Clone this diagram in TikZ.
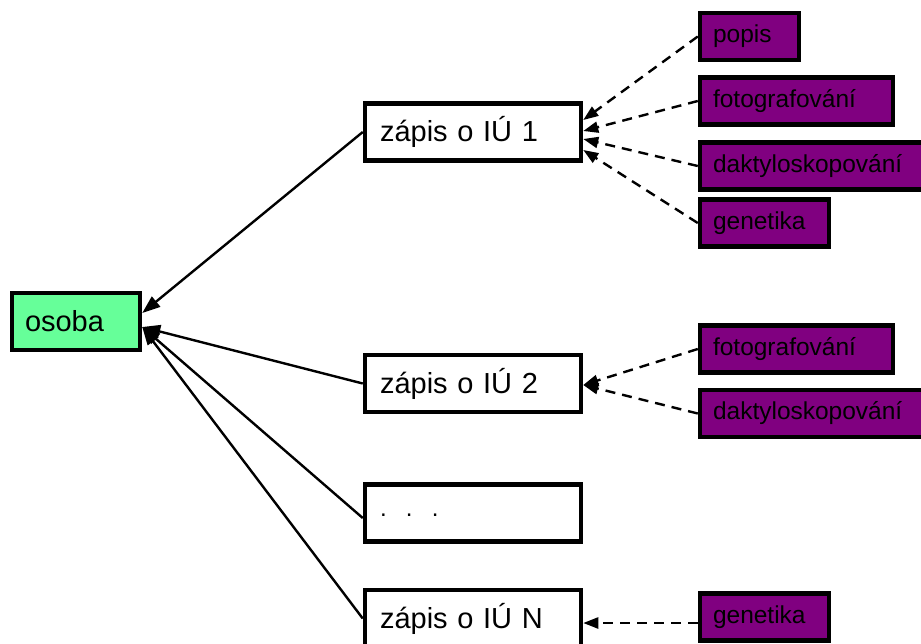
\documentclass[tikz,border=0pt]{standalone}
\usepackage{fontspec}
\setmainfont{Liberation Sans}
\usetikzlibrary{arrows.meta}
\definecolor{osobagreen}{RGB}{102,255,153}
\definecolor{methpurple}{RGB}{128,0,128}
\begin{document}
\begin{tikzpicture}[x=1pt,y=-1pt,
  basebox/.style={draw=black, line width=4.5pt, rectangle, align=left, anchor=center},
  wbox/.style={basebox, fill=white, text width=186pt, inner xsep=15pt, minimum height=57pt,
    font=\fontsize{29}{34}\selectfont},
  gbox/.style={basebox, fill=osobagreen, text width=102pt, inner xsep=13pt, minimum height=57pt,
    font=\fontsize{29}{34}\selectfont},
  pbox/.style={basebox, fill=methpurple, inner xsep=13pt, minimum height=47pt,
    font=\fontsize{24.5}{28}\selectfont},
  solidarrow/.style={line width=2.4pt, -{Triangle[length=18pt,width=13pt]}},
  dasharrow/.style={line width=2.4pt, dash pattern=on 10pt off 7pt, -{Triangle[length=15pt,width=11pt]}}
]
\useasboundingbox (0,0) rectangle (921,643);

\node[gbox] (osoba) at (76,321.5) {osoba};

\node[wbox] (z1) at (473,132) {zápis o IÚ 1};
\node[wbox] (z2) at (473,383.5) {zápis o IÚ 2};
\node[wbox] (zd) at (473,513) {\raisebox{-6pt}{\fontsize{24}{28}\selectfont .\ \ .\ \ .}};
\node[wbox] (zn) at (473,618.5) {zápis o IÚ N};

\node[pbox, text width=73pt] (p1) at (749.5,36.5) {popis};
\node[pbox, text width=167pt] (f1) at (796.5,101) {fotografování};
\node[pbox, text width=202pt] (d1) at (814,166) {daktyloskopování};
\node[pbox, text width=103pt] (g1) at (764.5,223) {genetika};

\node[pbox, text width=167pt] (f2) at (796.5,349) {fotografování};
\node[pbox, text width=202pt] (d2) at (814,413.5) {daktyloskopování};

\node[pbox, text width=103pt] (gn) at (764.5,617) {genetika};

% solid connectors to osoba
\draw[solidarrow] (z1.west) -- ([yshift=8.5pt]osoba.east);
\draw[solidarrow] (z2.west) -- ([yshift=-5.5pt]osoba.east);
\draw[solidarrow] ([yshift=-5pt]zd.west) -- ([yshift=-5.5pt]osoba.east);
\draw[solidarrow] (zn.west) -- ([yshift=-5.5pt]osoba.east);

% dashed connectors
\draw[dasharrow] (p1.west) -- ([yshift=12pt]z1.east);
\draw[dasharrow] (f1.west) -- ([yshift=1pt]z1.east);
\draw[dasharrow] (d1.west) -- ([yshift=-7pt]z1.east);
\draw[dasharrow] (g1.west) -- ([yshift=-18pt]z1.east);

\draw[dasharrow] (f2.west) -- ([yshift=-1.5pt]z2.east);
\draw[dasharrow] (d2.west) -- ([yshift=-1.5pt]z2.east);

\draw[dasharrow] ([yshift=-6pt]gn.west) -- ([yshift=-4.5pt]zn.east);
\end{tikzpicture}
\end{document}
